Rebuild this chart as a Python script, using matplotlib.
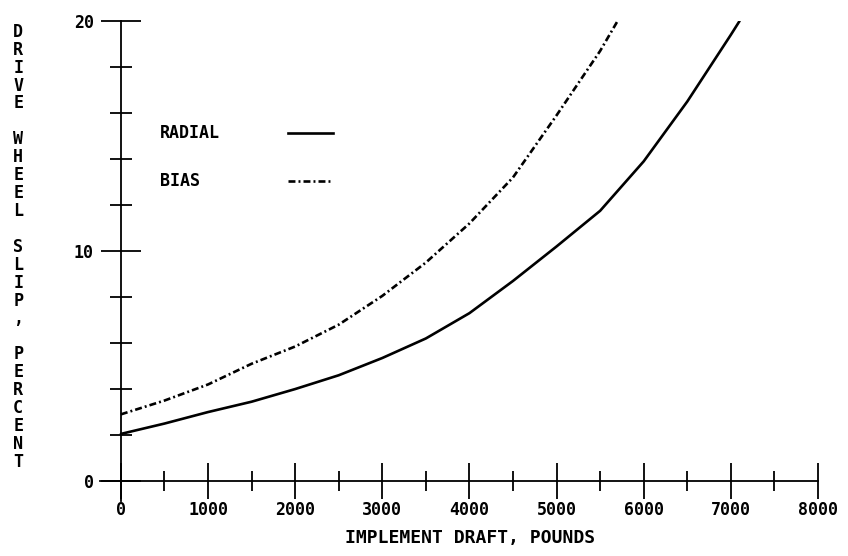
import matplotlib
matplotlib.use("Agg")
import matplotlib.pyplot as plt
from matplotlib.ticker import MultipleLocator

# drive wheel slip (%) vs implement draft (lb)
radial_draft = [0, 500, 1000, 1500, 2000, 2500, 3000, 3500, 4000, 4500, 5000, 5500, 6000, 6500, 7000, 7100]
radial_slip = [2.05, 2.5, 3.0, 3.45, 4.0, 4.6, 5.35, 6.2, 7.3, 8.7, 10.2, 11.75, 13.9, 16.5, 19.4, 20.0]

bias_draft = [0, 500, 1000, 1500, 2000, 2500, 3000, 3500, 4000, 4500, 5000, 5500, 5700]
bias_slip = [2.9, 3.5, 4.2, 5.1, 5.85, 6.8, 8.05, 9.5, 11.2, 13.2, 15.9, 18.7, 20.0]

series_labels = ["RADIAL", "BIAS"]

font = {"family": "DejaVu Sans Mono", "weight": "bold"}
plt.rcParams["lines.scale_dashes"] = False
dashdot = (0, (5, 2.2, 1.4, 2.2))

fig = plt.figure(figsize=(8.48, 5.56), dpi=100)
ax = fig.add_axes([0.1179, 0.0996, 0.8467, 0.8626])
ax.set_xlim(-240, 8000)
ax.set_ylim(-0.85, 20)

for side in ["top", "right"]:
    ax.spines[side].set_visible(False)
for side in ["left", "bottom"]:
    ax.spines[side].set_position(("data", 0))
    ax.spines[side].set_linewidth(1.3)

ax.plot(radial_draft, radial_slip, color="black", lw=1.9, solid_capstyle="round")
ax.plot(bias_draft, bias_slip, color="black", lw=1.9, linestyle=dashdot)

ax.xaxis.set_major_locator(MultipleLocator(1000))
ax.xaxis.set_minor_locator(MultipleLocator(500))
ax.yaxis.set_major_locator(MultipleLocator(10))
ax.yaxis.set_minor_locator(MultipleLocator(2))
ax.tick_params(axis="x", which="major", direction="inout", length=26, width=1.3, pad=1)
ax.tick_params(axis="x", which="minor", direction="inout", length=14, width=1.3)
ax.tick_params(axis="y", which="major", direction="inout", length=29, width=1.3, pad=5)
ax.tick_params(axis="y", which="minor", direction="inout", length=16, width=1.3)
for lab in ax.get_xticklabels() + ax.get_yticklabels():
    lab.set_fontfamily(font["family"])
    lab.set_fontweight(font["weight"])
    lab.set_fontsize(12)

ax.set_xlabel("IMPLEMENT DRAFT, POUNDS", fontsize=13, va="center", **font)
ax.xaxis.set_label_coords(0.515, -0.078)
ax.set_ylabel("\n".join("DRIVE WHEEL SLIP, PERCENT"), rotation=0, fontsize=12,
              ha="center", va="center", linespacing=0.995, **font)
ax.yaxis.set_label_coords(-0.114, 0.529)

# legend: label text followed by a line sample
for i, (lab, ls) in enumerate(zip(series_labels, ["-", dashdot])):
    yy = 0.766 - 0.100 * i
    ax.text(0.0836, yy, lab, transform=ax.transAxes, va="center", ha="left",
            fontsize=12, **font)
    ax.plot([0.262, 0.324], [yy, yy], transform=ax.transAxes, color="black",
            lw=1.9, linestyle=ls)

fig.savefig("out.png", dpi=100, facecolor="white")
